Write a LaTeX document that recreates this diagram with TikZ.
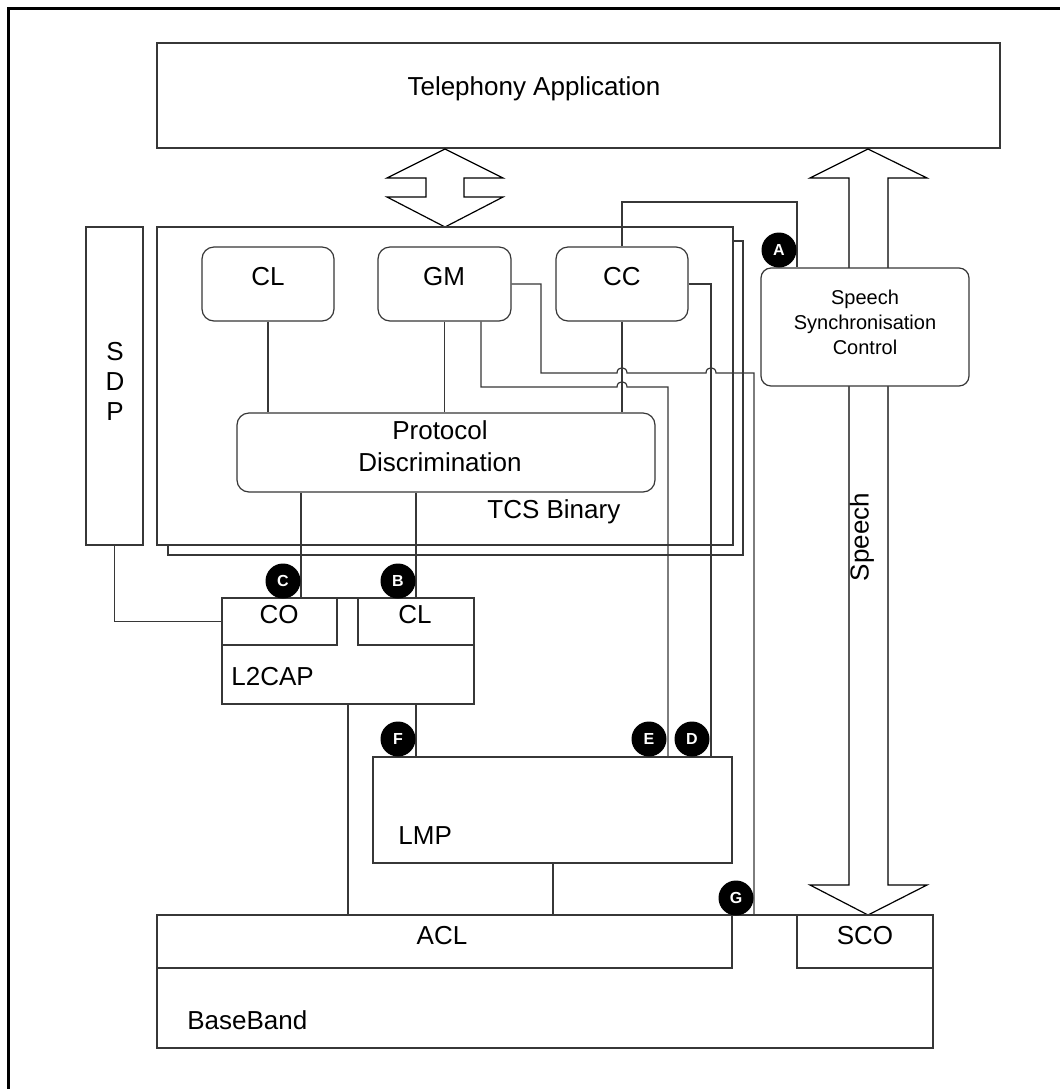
\documentclass[tikz,border=0pt]{standalone}
\usepackage{fontspec}
\setmainfont{Liberation Sans}
\usetikzlibrary{fit,positioning}
\definecolor{edgegray}{RGB}{55,55,55}

\begin{document}
\begin{tikzpicture}[
    x=0.5pt, y=-0.5pt,
    box/.style={draw=edgegray, fill=white, line width=0.6pt, inner sep=0pt},
    rbox/.style={box, rounded corners=6pt},
    lbl/.style={font=\fontsize{13}{16}\selectfont, inner sep=0pt},
    wire/.style={draw=edgegray, line width=0.6pt},
    bigarrow/.style={draw=black, fill=white, line width=0.6pt},
    badge/.style={circle, fill=black, text=white, font=\bfseries\fontsize{8}{9}\selectfont,
                  minimum size=17.5pt, inner sep=0pt},
    frame/.style={line width=1.5pt},
]
\useasboundingbox (0,0) rectangle (1060,1089);

% --- outer frame ---
\draw[frame] (8,1089) -- (8,8) -- (1060,8);

% --- Telephony application ---
\node[box, fit={(157,43) (1000,148)}] (app) {};
\node[lbl] (apptxt) at (534,89) {Telephony Application};

% --- big arrows ---
\draw[bigarrow] (445,149) -- (503,178) -- (464,178) -- (464,197) -- (503,197) -- (445,227)
    -- (387,197) -- (426,197) -- (426,178) -- (387,178) -- cycle;
\draw[bigarrow] (868,149) -- (927,178) -- (888,178) -- (888,885) -- (927,885) -- (868,915)
    -- (810,885) -- (849,885) -- (849,178) -- (810,178) -- cycle;
\node[lbl, rotate=90] (speechtxt) at (862,537) {Speech};

% --- TCS Binary stack ---
\node[box, fit={(168,241) (743,555)}] (tcsback) {};
\node[box, fit={(157,227) (733,545)}] (tcs) {};
\node[lbl, anchor=west] (tcstxt) at (487,512) {TCS Binary};

\node[rbox, fit={(202,247) (334,321)}] (cl) {};
\node[lbl] (cltxt) at (268,277) {CL};
\node[rbox, fit={(378,247) (511,321)}] (gm) {};
\node[lbl] (gmtxt) at (444,277) {GM};
\node[rbox, fit={(556,247) (688,321)}] (cc) {};
\node[lbl] (cctxt) at (622,277) {CC};
\node[rbox, fit={(237,413) (655,492)}] (pd) {};
\node[lbl, align=center] (pdtxt) at (440,446) {Protocol\\Discrimination};

% --- SDP ---
\node[box, fit={(86,227) (143,545)}] (sdp) {};
\node[lbl, font=\fontsize{13}{15}\selectfont, align=center] (sdptxt) at (115,381) {S\\D\\P};

% --- Speech synchronisation ---
\node[rbox, rounded corners=5pt, fit={(761,268) (969,386)}] (ssc) {};
\node[lbl, font=\fontsize{10}{12.5}\selectfont, align=center] (ssctxt) at (865,322)
    {Speech\\Synchronisation\\Control};

% --- L2CAP ---
\node[box, fit={(222,598) (474,704)}] (l2cap) {};
\node[box, fit={(222,598) (337,645)}] (co) {};
\node[box, fit={(358,598) (474,645)}] (l2cl) {};
\node[lbl] (cotxt) at (279,615) {CO};
\node[lbl] (l2cltxt) at (415,615) {CL};
\node[lbl, anchor=west] (l2captxt) at (231,677) {L2CAP};

% --- LMP ---
\node[box, fit={(373,757) (732,863)}] (lmp) {};
\node[lbl, anchor=west] (lmptxt) at (398,836) {LMP};

% --- BaseBand ---
\node[box, fit={(157,915) (933,1048)}] (bb) {};
\node[box, fit={(157,915) (732,968)}] (acl) {};
\node[box, fit={(797,915) (933,968)}] (sco) {};
\node[lbl] (acltxt) at (442,936) {ACL};
\node[lbl] (scotxt) at (865,936) {SCO};
\node[lbl, anchor=west] (bbtxt) at (187,1020) {BaseBand};

% --- wire positions ---
\coordinate (xc) at (301,0);
\coordinate (xb) at (416,0);
\coordinate (xl2) at (348,0);
\coordinate (xlmp) at (553,0);
\coordinate (xgm) at (481,0);
\coordinate (xe) at (668,0);
\coordinate (xd) at (711,0);
\coordinate (xg) at (754,0);
\coordinate (xa) at (797,0);
\coordinate (ya) at (0,202);

% --- wires ---
\draw[wire] (cl.south) -- (cl.south |- pd.north);
\draw[wire] (gm.south) -- (gm.south |- pd.north);
\draw[wire] (cc.south) -- (cc.south |- pd.north);
\draw[wire] (cc.north) -- (cc.north |- ya) -| (ssc.north -| xa);
\draw[wire] (pd.south -| xc) -- (co.north -| xc);
\draw[wire] (pd.south -| xb) -- (l2cl.north -| xb);
\draw[wire] (sdp.south) |- (co.west);
\draw[wire] (gm.east) -- (541,284) -- (541,373) -- (617,373)
    .. controls (617,366) and (627,366) .. (627,373) -- (706,373)
    .. controls (706,366) and (716,366) .. (716,373) -- (754,373) -- (bb.north -| xg);
\draw[wire] (gm.south -| xgm) -- (481,387) -- (617,387)
    .. controls (617,380) and (627,380) .. (627,387) -- (668,387) -- (lmp.north -| xe);
\draw[wire] (cc.east) -- (711,284) -- (lmp.north -| xd);
\draw[wire] (l2cap.south -| xb) -- (lmp.north -| xb);
\draw[wire] (l2cap.south -| xl2) -- (acl.north -| xl2);
\draw[wire] (lmp.south -| xlmp) -- (acl.north -| xlmp);

% --- reference points ---
\node[badge] (ba) at (779,250) {A};
\node[badge] (bbdg) at (398,581) {B};
\node[badge] (bc) at (283,581) {C};
\node[badge] (bd) at (692,739) {D};
\node[badge] (be) at (649,739) {E};
\node[badge] (bf) at (398,739) {F};
\node[badge] (bg) at (736,898) {G};

\end{tikzpicture}
\end{document}
